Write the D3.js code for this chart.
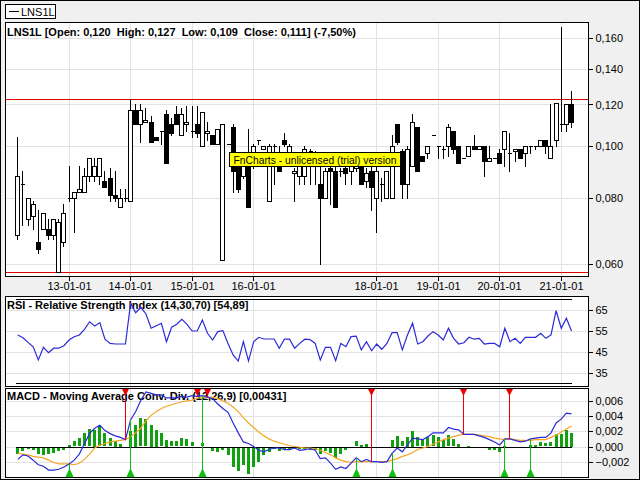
<!DOCTYPE html>
<html><head><meta charset="utf-8">
<script src="https://cdn.jsdelivr.net/npm/d3@7"></script>
<style>
body{margin:0;background:#f0f0f0}
text{font-family:"Liberation Sans",Arial,sans-serif}
</style></head><body>
<script>
// ---------- DATA ----------
const tickIndex  = [10,22,34,46,70,82,94,106];
const tickLabels = ["13-01-01","14-01-01","15-01-01","16-01-01","18-01-01","19-01-01","20-01-01","21-01-01"];

const open = [.068,.085,.073,.074,.066,.070,.070,.068,.058,.066, .080,.080,.082,.082,.088,.088,.088,.086,.087,.081,
 .077,.080,.079,.117,.110,.111,.111,.104,.107,.115, .110,.115,.105,.110,.107,.110,.100,.106,.105,.101,
 .061,.101,.109,.093,.088,.097,.092,.103,.099,.079, .100,.096,.103,.095,.089,.088,.088,.098,.096,.085,
 .080,.091,.090,.090,.091,.090,.091,.092,.086,.090, .080,.085,.080,.080,.110,.098,.085,.092,.109,.096,
 .097,.105,.100,.099,.100,.107,.100,.095,.096,.100, .099,.100,.094,.095,.097,.099,.097,.098,.099,.097,
 .100,.100,.100,.103,.095,.103,.110,.110,.120];
const high = [.104,.090,.080,.079,.076,.075,.073,.073,.073,.078, .092,.082,.092,.091,.095,.095,.095,.090,.091,.090,
 .083,.083,.123,.120,.120,.118,.114,.104,.107,.117, .113,.119,.118,.119,.119,.119,.116,.111,.105,.108,
 .110,.101,.110,.095,.094,.108,.101,.103,.100,.101, .101,.100,.106,.101,.091,.097,.100,.099,.098,.092,
 .091,.092,.092,.091,.092,.093,.093,.093,.091,.092, .092,.087,.090,.105,.110,.099,.100,.115,.109,.096,
 .100,.105,.100,.100,.110,.107,.100,.095,.100,.105, .100,.100,.100,.095,.099,.107,.106,.099,.099,.100,
 .100,.100,.103,.103,.120,.121,.168,.120,.127];
const low = [.067,.071,.071,.070,.063,.070,.067,.067,.058,.065, .079,.069,.082,.082,.086,.086,.085,.084,.079,.079,
 .077,.079,.079,.110,.102,.111,.102,.103,.101,.093, .105,.110,.105,.107,.104,.104,.100,.103,.101,.101,
 .061,.101,.082,.082,.087,.077,.091,.101,.099,.079, .085,.090,.100,.094,.079,.085,.085,.085,.085,.060,
 .080,.078,.077,.088,.085,.085,.090,.085,.084,.076, .069,.079,.080,.080,.101,.080,.080,.092,.090,.094,
 .095,.105,.095,.095,.096,.097,.093,.095,.096,.099, .099,.088,.094,.095,.093,.092,.090,.094,.095,.092,
 .097,.099,.100,.097,.095,.100,.107,.107,.109];
const close = [.088,.085,.080,.078,.064,.075,.068,.073,.072,.075, .080,.082,.083,.088,.095,.092,.095,.084,.081,.080,
 .080,.080,.117,.110,.117,.112,.102,.103,.107,.093, .106,.110,.115,.111,.107,.106,.116,.107,.101,.108,
 .110,.101,.090,.083,.093,.077,.100,.103,.100,.100, .100,.090,.101,.100,.090,.096,.099,.098,.096,.080,
 .090,.090,.077,.090,.089,.092,.092,.085,.089,.084, .090,.085,.090,.100,.102,.085,.099,.111,.090,.094,
 .100,.105,.100,.099,.109,.099,.093,.095,.100,.099, .100,.094,.095,.095,.093,.107,.097,.099,.095,.100,
 .100,.100,.103,.100,.100,.121,.110,.120,.111];

const refLines = [0.123, 0.058];

const rsi = [53.0,51.7,49.5,47.4,41.1,47.1,44.6,46.7,46.7,47.9, 50.6,52.2,53.0,55.7,59.3,57.3,58.9,51.0,49.0,48.7,
 48.7,48.7,68.1,63.6,66.2,63.0,56.2,57.4,58.6,49.8, 56.7,58.1,60.5,58.1,54.9,54.9,60.1,53.8,50.6,54.6,
 55.1,49.0,43.5,40.6,49.8,40.6,49.8,51.9,51.1,51.1, 51.1,46.7,51.0,51.0,46.7,49.0,51.0,50.8,49.0,41.1,
 47.1,47.1,40.8,49.0,47.4,52.2,52.5,45.9,49.8,45.5, 48.7,46.2,49.0,54.1,54.1,45.9,53.0,58.6,48.7,49.8,
 52.5,54.6,53.0,50.6,56.2,51.4,48.7,49.3,51.9,51.0, 51.4,48.7,49.0,49.0,47.4,56.2,49.8,51.4,49.0,51.9,
 51.9,51.9,53.8,51.4,53.0,64.6,56.2,61.0,54.89];
const rsiBands = [30, 70];

const macd = [-0.0017,-0.0011,-0.00125,-0.0018,-0.0024,-0.0026,-0.0031,-0.0031,-0.0030,-0.0027,
 -0.0023,-0.0018,-0.0010,0.0004,0.0017,0.0024,0.0028,0.0021,0.0017,0.0014,
 0.0012,0.0009,0.0035,0.0046,0.0061,0.0072,0.0070,0.0068,0.0068,0.0064,
 0.0064,0.0064,0.0066,0.0065,0.0067,0.0066,0.0067,0.0065,0.0063,0.0056,
 0.0050,0.0045,0.0031,0.0018,0.0006,0.0004,0.0000,-0.0005,-0.0007,-0.0004,
 -0.0002,-0.0002,-0.0004,-0.0004,-0.0002,-0.0005,-0.0004,-0.0003,-0.0005,-0.0016,
 -0.0015,-0.0022,-0.0030,-0.0027,-0.0029,-0.0022,-0.0015,-0.0020,-0.0017,-0.0020,
 -0.0020,-0.0021,-0.0020,-0.0009,-0.0002,-0.0007,0.0002,0.0011,0.0010,0.0009,
 0.0013,0.0018,0.0018,0.0018,0.0025,0.0023,0.0022,0.0016,0.0016,0.0016,
 0.0014,0.0012,0.0009,0.0006,0.0002,0.0010,0.0010,0.0008,0.0006,0.0007,
 0.0010,0.0011,0.0012,0.0012,0.0018,0.0031,0.0036,0.0044,0.00431];
const signal = [-0.0009,-0.0010,-0.0011,-0.0013,-0.0014,-0.0015,-0.0018,-0.0021,-0.0023,-0.0023,
 -0.0023,-0.0024,-0.0022,-0.0017,-0.0010,-0.0002,0.0002,0.0004,0.0006,0.0007,
 0.0008,0.0009,0.0013,0.0018,0.0024,0.0034,0.0041,0.0046,0.0050,0.0053,
 0.0055,0.0057,0.0059,0.0060,0.0061,0.0064,0.0064,0.0065,0.0065,0.0063,
 0.0060,0.0057,0.0052,0.0046,0.0038,0.0031,0.0025,0.0019,0.0014,0.0010,
 0.0007,0.0005,0.0003,0.0001,0.0000,-0.0001,-0.0002,-0.0002,-0.0003,-0.0005,
 -0.0008,-0.0011,-0.0015,-0.0018,-0.0020,-0.0021,-0.0020,-0.0020,-0.0020,-0.0020,
 -0.0020,-0.0020,-0.0020,-0.0018,-0.0016,-0.0013,-0.0011,-0.0008,-0.0004,-0.0002,
 0.0000,0.0003,0.0006,0.0009,0.0011,0.0013,0.0015,0.0016,0.0016,0.0016,
 0.0015,0.0014,0.0013,0.0011,0.0010,0.0009,0.0010,0.0009,0.0008,0.0008,
 0.0008,0.0009,0.0009,0.0009,0.0012,0.0015,0.0019,0.0023,0.0027];
const hist = [-0.00097,-0.00053,-0.0003,-0.00035,-0.00097,-0.0011,-0.00088,-0.00079,-0.00053,-0.00044,
 0.00022,0.00066,0.0011,0.00176,0.00228,0.0022,0.00264,0.00176,0.0011,0.00079,
 0.00035,-0.0001,0.0021,0.00286,0.00373,0.0036,0.00286,0.0022,0.00176,0.00088,
 0.00066,0.00066,0.0011,0.00097,0.00053,-0.00005,0.00044,-0.00005,-0.00053,-0.00066,
 -0.00035,-0.0011,-0.0027,-0.0031,-0.0024,-0.0035,-0.0027,-0.002,-0.0011,-0.00066,
 -0.0003,-0.00053,-0.00022,-0.00035,-0.0001,-0.00022,-0.0003,-0.00044,-0.00035,-0.0009,
 -0.00053,-0.0008,-0.0014,-0.00088,-0.00044,-0.0001,0.00066,0.00022,0.00035,-0.0001,
 -0.00005,-0.00013,-0.00005,0.00088,0.0014,0.00066,0.0013,0.0021,0.0012,0.00097,
 0.0012,0.0015,0.0013,0.00088,0.0015,0.00097,0.00035,-0.00003,0.00002,0,
 0,-0.00013,-0.00035,-0.00044,-0.00066,0.0001,-0.00005,-0.00005,-0.0001,-0.00005,
 0.00022,0.00022,0.00053,0.00044,0.00053,0.0017,0.0017,0.0022,0.0018];
const sellIdx = [21,35,37,69,87,96];
const buyIdx  = [10,22,36,66,73,95,100];

const priceTicks = [0.06,0.08,0.10,0.12,0.14,0.16];
const rsiTicks = [35,45,55,65];
const macdTicks = [-0.002,0,0.002,0.004,0.006];

const mainTitle = "LNS1L [Open: 0,120  High: 0,127  Low: 0,109  Close: 0,111] (-7,50%)";
const rsiTitle = "RSI - Relative Strength Index (14,30,70) [54,89]";
const macdTitle = "MACD - Moving Average Conv. Div. (12,26,9) [0,00431]";

// ---------- LAYOUT ----------
const W=640,H=480, L=5, R=588;
const PM=[22,276], PR=[296,386], PD=[388,477];
const GRID="#e2e2e2";

const svg=d3.select("body").append("svg").attr("width",W).attr("height",H).style("display","block");
svg.append("rect").attr("width",W).attr("height",H).attr("fill","#f0f0f0");

const x=d3.scaleLinear().domain([0,open.length-1]).range([17.3,571]);
const yP=d3.scaleLog().domain([0.05696,0.1717]).range([PM[1],PM[0]]);
const yR=d3.scaleLinear().domain([28.71,71.57]).range([PR[1],PR[0]]);
const yM=d3.scaleLinear().domain([-0.004018,0.007708]).range([PD[1],PD[0]]);
const cx=i=>Math.round(x(i));
const comma=f=>d=>f(d).replace(".",",");

function panelBg(p){
  svg.append("rect").attr("x",L).attr("y",p[0]).attr("width",R-L).attr("height",p[1]-p[0]).attr("fill","#fff");
  svg.append("g").selectAll("line").data(tickIndex).join("line")
    .attr("x1",d=>cx(d)+0.5).attr("x2",d=>cx(d)+0.5).attr("y1",p[0]).attr("y2",p[1])
    .attr("stroke",GRID).attr("shape-rendering","crispEdges");
}
function hGrid(p,scale,vals){
  svg.append("g").selectAll("line").data(vals).join("line")
    .attr("x1",L).attr("x2",R).attr("y1",d=>Math.round(scale(d))+0.5).attr("y2",d=>Math.round(scale(d))+0.5)
    .attr("stroke",GRID).attr("shape-rendering","crispEdges");
}
function border(p){
  svg.append("rect").attr("x",L+0.5).attr("y",p[0]+0.5).attr("width",R-L).attr("height",p[1]-p[0])
    .attr("fill","none").attr("stroke","#000").attr("shape-rendering","crispEdges");
}
function yAxis(scale,vals,fmt){
  const g=svg.append("g").attr("transform",`translate(${R+0.5},0)`)
    .call(d3.axisRight(scale).tickValues(vals).tickFormat(fmt).tickSize(4).tickPadding(3));
  g.select(".domain").remove();
  g.selectAll("line").attr("stroke","#000").attr("shape-rendering","crispEdges");
  g.selectAll("text").attr("font-size",11).attr("fill","#000").attr("font-family","Liberation Sans, Arial, sans-serif");
}
function title(t,y){
  svg.append("text").attr("x",7).attr("y",y).attr("font-size",11).attr("font-weight","bold")
    .attr("xml:space","preserve").style("white-space","pre").text(t);
}

// legend
svg.append("rect").attr("x",5.5).attr("y",4.5).attr("width",50).attr("height",14).attr("fill","#fff").attr("stroke","#000");
svg.append("line").attr("x1",9).attr("x2",19).attr("y1",11.5).attr("y2",11.5).attr("stroke","#000");
svg.append("text").attr("x",21).attr("y",15.5).attr("font-size",11).text("LNS1L");

// ---------- MAIN PANEL ----------
panelBg(PM); hGrid(PM,yP,priceTicks);
title(mainTitle,36);
svg.append("g").selectAll("line").data(refLines).join("line")
  .attr("x1",L).attr("x2",R).attr("y1",d=>Math.round(yP(d))+0.5).attr("y2",d=>Math.round(yP(d))+0.5)
  .attr("stroke","#e00000").attr("shape-rendering","crispEdges");
const cg=svg.append("g").attr("shape-rendering","crispEdges");
open.forEach((o,i)=>{
  const c=close[i], X=cx(i);
  cg.append("line").attr("x1",X+0.5).attr("x2",X+0.5).attr("y1",Math.round(yP(high[i]))).attr("y2",Math.round(yP(low[i]))+1).attr("stroke","#000");
  const t=Math.round(yP(Math.max(o,c)))+0.5, b=Math.round(yP(Math.min(o,c)))+0.5;
  cg.append("path").attr("d",`M${X-1.5},${t}H${X+2.5}V${b}H${X-1.5}Z`)
    .attr("fill",c<o?"#000":"#fff").attr("stroke","#000");
});
border(PM); yAxis(yP,priceTicks,comma(d3.format(".3f")));
// date axis
const xa=svg.append("g").attr("transform",`translate(0.5,${PM[1]+0.5})`)
  .call(d3.axisBottom(x).tickValues(tickIndex).tickFormat((d,i)=>tickLabels[i]).tickSize(4).tickPadding(2));
xa.select(".domain").remove();
xa.selectAll(".tick").attr("transform",d=>`translate(${cx(d)},0)`);
xa.selectAll("line").attr("stroke","#000").attr("shape-rendering","crispEdges");
xa.selectAll("text").attr("font-size",11).attr("fill","#000").attr("font-family","Liberation Sans, Arial, sans-serif");

// watermark
svg.append("rect").attr("x",229.5).attr("y",152.5).attr("width",171).attr("height",14).attr("fill","#ffff00").attr("stroke","#000");
svg.append("text").attr("x",315).attr("y",163.5).attr("text-anchor","middle").attr("font-size",11)
  .attr("textLength",163).attr("lengthAdjust","spacingAndGlyphs").text("FnCharts - unlicensed (trial) version");

// ---------- RSI PANEL ----------
panelBg(PR); hGrid(PR,yR,rsiTicks);
title(rsiTitle,309);
svg.append("g").selectAll("line").data(rsiBands).join("line")
  .attr("x1",cx(0)-1).attr("x2",cx(open.length-1)+1).attr("y1",d=>Math.round(yR(d))+0.5).attr("y2",d=>Math.round(yR(d))+0.5)
  .attr("stroke","#000").attr("shape-rendering","crispEdges");
svg.append("path").attr("d",d3.line().x((d,i)=>x(i)+0.5).y(d=>yR(d))(rsi))
  .attr("fill","none").attr("stroke","#2a2ad8").attr("stroke-width",1.2);
border(PR); yAxis(yR,rsiTicks,d3.format("d"));

// ---------- MACD PANEL ----------
panelBg(PD); hGrid(PD,yM,macdTicks);
title(macdTitle,400);
svg.append("g").attr("shape-rendering","crispEdges").selectAll("rect").data(hist).join("rect")
  .attr("x",(d,i)=>cx(i)-1).attr("width",3)
  .attr("y",d=>Math.round(Math.min(yM(0),yM(d)))).attr("height",d=>Math.max(1,Math.round(Math.abs(yM(d)-yM(0)))))
  .attr("fill","#10a010");
svg.append("line").attr("x1",cx(0)-1).attr("x2",cx(open.length-1)+1).attr("y1",Math.round(yM(0))+0.5).attr("y2",Math.round(yM(0))+0.5)
  .attr("stroke","#000").attr("shape-rendering","crispEdges");
svg.append("path").attr("d",d3.line().x((d,i)=>x(i)+0.5).y(d=>yM(d))(signal))
  .attr("fill","none").attr("stroke","#f5a623").attr("stroke-width",1.2);
svg.append("path").attr("d",d3.line().x((d,i)=>x(i)+0.5).y(d=>yM(d))(macd))
  .attr("fill","none").attr("stroke","#2a2ad8").attr("stroke-width",1.2);
sellIdx.forEach(i=>{
  const X=cx(i)+0.5;
  svg.append("line").attr("x1",X).attr("x2",X).attr("y1",PD[0]+2).attr("y2",yM(macd[i])).attr("stroke","#ee0000");
  svg.append("path").attr("d",`M${X-3.5},${PD[0]+1}L${X+3.5},${PD[0]+1}L${X},${PD[0]+8}Z`).attr("fill","#ee0000");
});
buyIdx.forEach(i=>{
  const X=cx(i)+0.5;
  svg.append("line").attr("x1",X).attr("x2",X).attr("y1",PD[1]).attr("y2",yM(macd[i])).attr("stroke","#10c010");
  svg.append("path").attr("d",`M${X-4},${PD[1]}L${X+4},${PD[1]}L${X},${PD[1]-9}Z`).attr("fill","#10c010");
});
border(PD); yAxis(yM,macdTicks,comma(d3.format(".3f")));

// outer frame
svg.append("rect").attr("x",0.5).attr("y",0.5).attr("width",W-1).attr("height",H-1).attr("fill","none").attr("stroke","#000");
</script>
</body></html>
